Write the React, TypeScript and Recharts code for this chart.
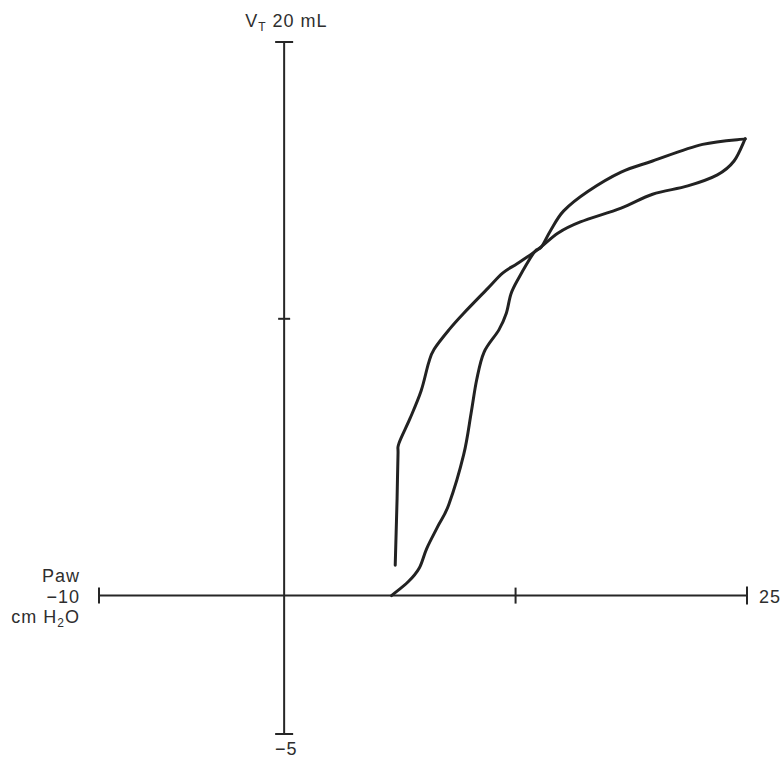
import React from "react";
import { LineChart, Line, XAxis, YAxis, ReferenceLine, ReferenceDot } from "recharts";

// Airway pressure (cm H2O) and tidal volume (mL) along the loop
const inspPressure = [5.8, 6.7, 7.3, 7.7, 8.3, 8.9, 9.7, 10.1, 10.4, 10.8, 11.6, 12.0, 12.25, 12.65, 13.5, 13.9, 14.4, 15.1, 16.4, 18.2, 19.9, 22.6, 24.9];
const inspVolume = [0, 0.5, 1.0, 1.7, 2.5, 3.3, 5.1, 6.6, 7.8, 8.8, 9.6, 10.2, 10.9, 11.45, 12.4, 12.6, 13.2, 13.9, 14.6, 15.3, 15.7, 16.3, 16.5];
const expPressure = [24.9, 24.3, 23.4, 21.8, 19.9, 18.2, 16.0, 14.8, 13.7, 12.6, 11.8, 11.0, 9.7, 8.9, 8.1, 7.8, 7.4, 6.8, 6.2, 6.15, 6.1, 6.05, 6.0];
const expVolume = [16.5, 15.7, 15.2, 14.8, 14.5, 14.0, 13.5, 13.1, 12.5, 12.0, 11.65, 11.1, 10.2, 9.6, 8.9, 8.4, 7.4, 6.4, 5.5, 5.1, 3.5, 2.3, 1.1];

const xMin = -10;
const xMax = 25;
const xMid = 12.5;
const yMin = -5;
const yMax = 20;
const yMid = 10;

const inspData = inspPressure.map((p, i) => ({ p, v: inspVolume[i] }));
const expData = expPressure.map((p, i) => ({ p, v: expVolume[i] }));

const INK = "#262626";
const TXT = "#2e2e2e";
const FONT = "'Liberation Sans', Arial, Helvetica, sans-serif";
const FS = 18;
const LS = 1;

// Catmull-Rom style smooth curve passing through every point
function smoothCurve(context: any) {
  let pts: number[][] = [];
  return {
    areaStart() {},
    areaEnd() {},
    lineStart() {
      pts = [];
    },
    point(x: number, y: number) {
      pts.push([+x, +y]);
    },
    lineEnd() {
      if (!pts.length) return;
      context.moveTo(pts[0][0], pts[0][1]);
      for (let i = 0; i < pts.length - 1; i++) {
        const p0 = pts[i - 1] || pts[i];
        const p1 = pts[i];
        const p2 = pts[i + 1];
        const p3 = pts[i + 2] || p2;
        const t = 6;
        context.bezierCurveTo(
          p1[0] + (p2[0] - p0[0]) / t,
          p1[1] + (p2[1] - p0[1]) / t,
          p2[0] - (p3[0] - p1[0]) / t,
          p2[1] - (p3[1] - p1[1]) / t,
          p2[0],
          p2[1]
        );
      }
    },
  };
}

const vTick = (half: number) => (props: any) => (
  <line x1={props.cx} x2={props.cx} y1={props.cy - half} y2={props.cy + half} stroke={INK} strokeWidth={2} />
);
const hTick = (half: number) => (props: any) => (
  <line x1={props.cx - half} x2={props.cx + half} y1={props.cy} y2={props.cy} stroke={INK} strokeWidth={2} />
);

const topShape = (props: any) => (
  <g>
    <line x1={props.cx - 9} x2={props.cx + 9} y1={props.cy} y2={props.cy} stroke={INK} strokeWidth={2} />
    <text x={props.cx - 39} y={props.cy - 15} fontFamily={FONT} fontSize={FS} fill={TXT} letterSpacing={LS}>
      <tspan>V</tspan>
      <tspan fontSize={12} dy={4}>T</tspan>
      <tspan dy={-4}>{" 20 mL"}</tspan>
    </text>
  </g>
);

const bottomShape = (props: any) => (
  <g>
    <line x1={props.cx - 9} x2={props.cx + 9} y1={props.cy} y2={props.cy} stroke={INK} strokeWidth={2} />
    <text x={props.cx + 2} y={props.cy + 21} textAnchor="middle" fontFamily={FONT} fontSize={FS} fill={TXT} letterSpacing={LS}>
      {"\u22125"}
    </text>
  </g>
);

const leftShape = (props: any) => (
  <g>
    <line x1={props.cx} x2={props.cx} y1={props.cy - 8} y2={props.cy + 8} stroke={INK} strokeWidth={2} />
    <g fontFamily={FONT} fontSize={FS} fill={TXT} textAnchor="end" letterSpacing={LS}>
      <text x={props.cx - 19} y={props.cy - 14}>Paw</text>
      <text x={props.cx - 19} y={props.cy + 7}>{"\u221210"}</text>
      <text x={props.cx - 19} y={props.cy + 27}>
        <tspan>cm H</tspan>
        <tspan fontSize={12} dy={4}>2</tspan>
        <tspan dy={-4}>O</tspan>
      </text>
    </g>
  </g>
);

const rightShape = (props: any) => (
  <g>
    <line x1={props.cx} x2={props.cx} y1={props.cy - 9} y2={props.cy + 9} stroke={INK} strokeWidth={2} />
    <text x={props.cx + 12} y={props.cy + 7} fontFamily={FONT} fontSize={FS} fill={TXT} letterSpacing={LS}>25</text>
  </g>
);

export default function App() {
  return (
    <div style={{ position: "absolute", left: 0, top: 0, background: "#fff" }}>
      <LineChart width={784} height={761} margin={{ top: 42, right: 37, bottom: 27, left: 99 }}>
        <XAxis type="number" dataKey="p" domain={[xMin, xMax]} hide allowDataOverflow />
        <YAxis type="number" dataKey="v" domain={[yMin, yMax]} hide allowDataOverflow />
        <ReferenceLine y={0} stroke={INK} strokeWidth={2} />
        <ReferenceLine x={0} stroke={INK} strokeWidth={2} />
        <ReferenceDot x={xMin} y={0} shape={leftShape} />
        <ReferenceDot x={xMax} y={0} shape={rightShape} />
        <ReferenceDot x={xMid} y={0} shape={vTick(8)} />
        <ReferenceDot x={0} y={yMax} shape={topShape} />
        <ReferenceDot x={0} y={yMin} shape={bottomShape} />
        <ReferenceDot x={0} y={yMid} shape={hTick(6)} />
        <Line
          data={inspData}
          type={smoothCurve as any}
          dataKey="v"
          stroke="#222"
          strokeWidth={3}
          strokeLinejoin="round"
          strokeLinecap="round"
          dot={false}
          activeDot={false}
          isAnimationActive={false}
        />
        <Line
          data={expData}
          type={smoothCurve as any}
          dataKey="v"
          stroke="#222"
          strokeWidth={3}
          strokeLinejoin="round"
          strokeLinecap="round"
          dot={false}
          activeDot={false}
          isAnimationActive={false}
        />
      </LineChart>
    </div>
  );
}
